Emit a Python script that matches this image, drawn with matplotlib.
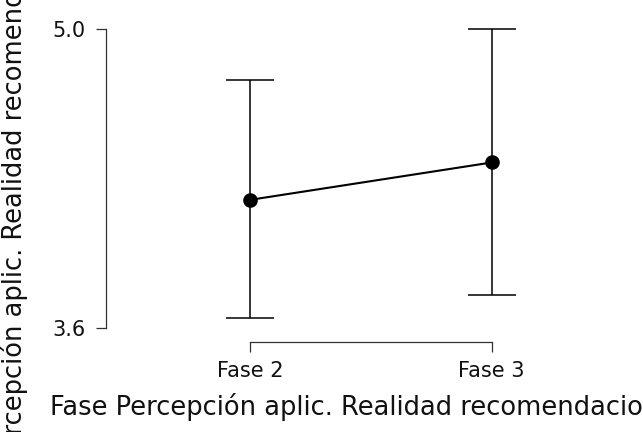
import matplotlib
matplotlib.use("Agg")
import matplotlib.pyplot as plt

# data
phases = ["Fase 2", "Fase 3"]
means = [4.20, 4.375]
ci_low = [3.645, 3.755]
ci_high = [4.76, 5.00]
y_ticks = [3.6, 5.0]
y_ticklabels = ["3.6", "5.0"]

W, H = 643, 432
fig = plt.figure(figsize=(W / 100, H / 100), dpi=100)
# axes placed in pixel terms: left spine at x=106, y from 29 to 328
ax = fig.add_axes([106 / W, 1 - 328 / H, (W - 106) / W, (328 - 29) / H])

x = list(range(len(phases)))
yerr = [[m - lo for m, lo in zip(means, ci_low)],
        [hi - m for m, hi in zip(means, ci_high)]]
ax.errorbar(x, means, yerr=yerr, fmt="none", ecolor="black", elinewidth=1.1,
            capsize=17, capthick=1.1, clip_on=False)
ax.plot(x, means, color="black", lw=1.5, marker="o", markersize=9.5, clip_on=False, zorder=3)

ax.set_xlim(-0.596, 1.626)
ax.set_ylim(3.6, 5.0)

for s in ["top", "right"]:
    ax.spines[s].set_visible(False)
ax.spines["left"].set_bounds(3.6, 5.0)
ax.spines["bottom"].set_bounds(0, 1)
ax.spines["bottom"].set_position(("outward", 10))
for s in ["left", "bottom"]:
    ax.spines[s].set_linewidth(0.9)
    ax.spines[s].set_color("#333333")

ax.set_yticks(y_ticks)
ax.set_yticklabels(y_ticklabels)
ax.set_xticks(x)
ax.set_xticklabels(phases)
ax.tick_params(axis="both", direction="out", length=7, width=0.9, color="#333333",
               labelsize=15, labelcolor="#111111")
ax.tick_params(axis="y", pad=8)
ax.tick_params(axis="x", pad=7)

# both axis titles run past the figure edge, as in the reference
fig.text(50 / W, 1 - 407 / H, "Fase Percepción aplic. Realidad recomendaciones",
         ha="left", va="center", fontsize=18.5, color="#111111")
fig.text(14 / W, 1 - 178 / H, "Percepción aplic. Realidad recomendaciones",
         ha="center", va="center", rotation=90, fontsize=18.5, color="#111111")

fig.savefig("out.png", dpi=100)
